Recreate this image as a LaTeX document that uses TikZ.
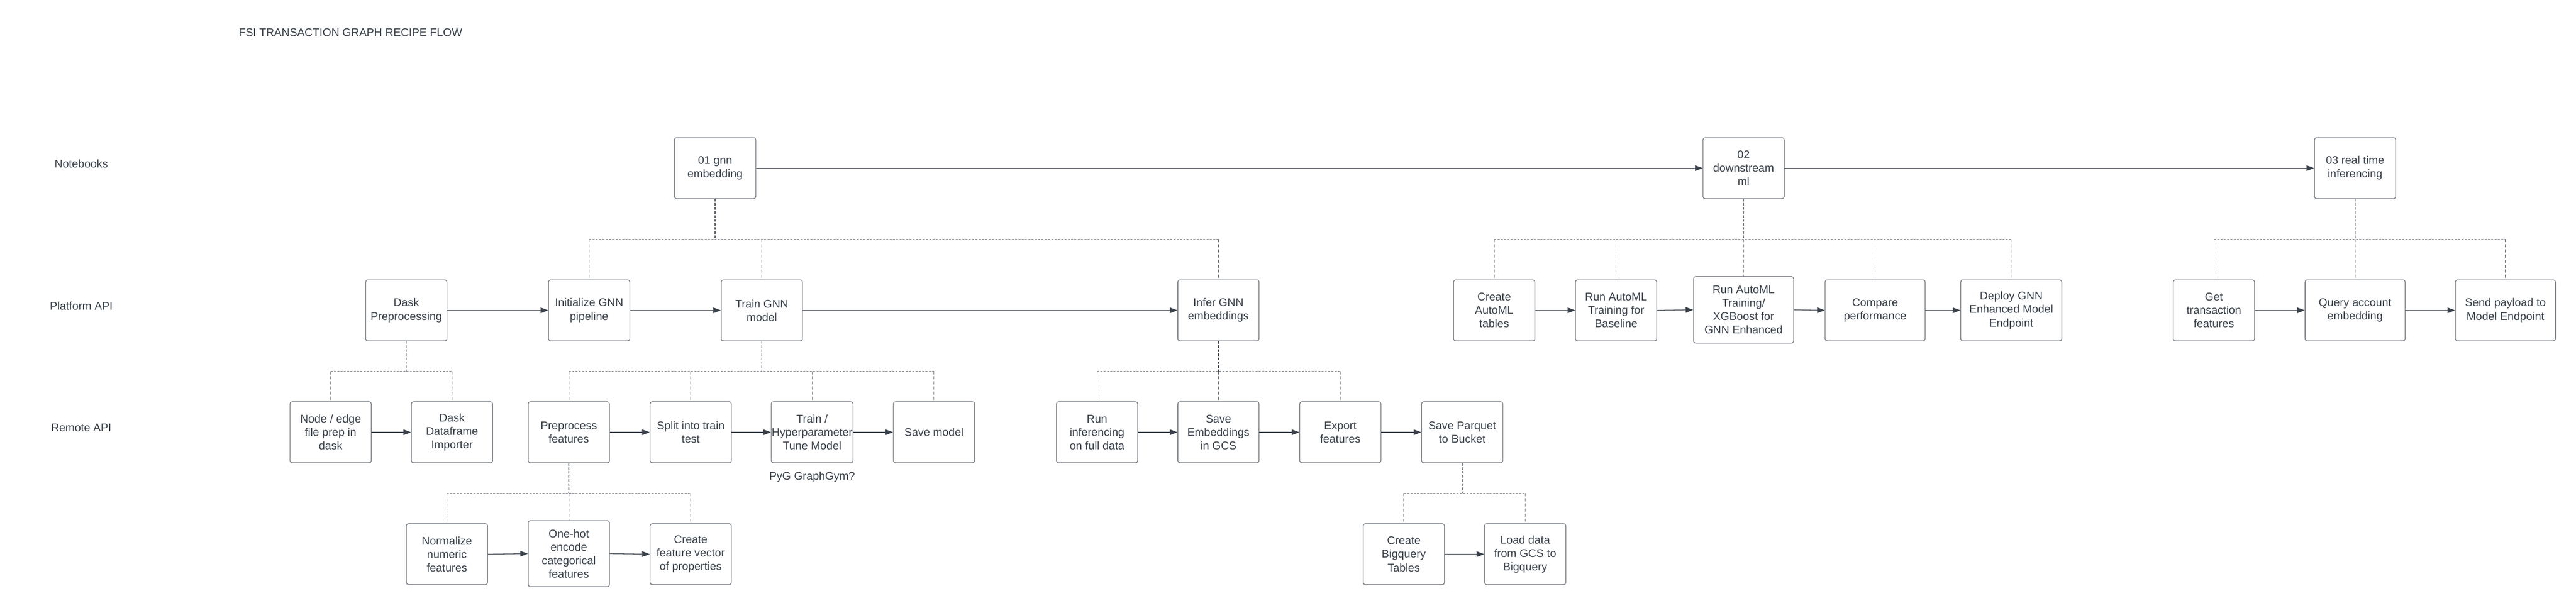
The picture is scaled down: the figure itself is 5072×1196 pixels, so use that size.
\documentclass[tikz,border=0pt]{standalone}
\usepackage{fontspec}
\setmainfont{Liberation Sans}
\usetikzlibrary{arrows.meta}
\definecolor{txt}{HTML}{3A414A}
\definecolor{bord}{HTML}{6E737A}
\definecolor{dsh}{HTML}{7A7F86}
\definecolor{dshd}{HTML}{4A5058}
\begin{document}
\begin{tikzpicture}[x=1pt,y=-1pt,
 box/.style={draw=bord, line width=1.3pt, rounded corners=4pt, minimum width=160pt, minimum height=120pt, align=center, text=txt, font=\fontsize{22}{26.5}\selectfont, inner sep=1pt},
 wbox/.style={box, minimum width=197pt},
 lbl/.style={text=txt, font=\fontsize{22}{26.5}\selectfont, inner sep=0pt},
 arr/.style={draw=txt, line width=1.3pt, -{Triangle[length=15pt,width=11pt]}},
 trunk/.style={draw=dshd, line width=1.4pt, dash pattern=on 5pt off 3pt},
 bus/.style={draw=dsh, line width=1.3pt, dash pattern=on 4pt off 2.5pt},
 branch/.style={draw=dsh, line width=1.1pt, dash pattern=on 6pt off 4pt},
]
\useasboundingbox[fill=white] (0,0) rectangle (5072,1196);

% labels
\node[lbl, anchor=west] (title) at (470,64) {FSI TRANSACTION GRAPH RECIPE FLOW};
\node[lbl] (lnb) at (160,322) {Notebooks};
\node[lbl] (lpa) at (160,602) {Platform API};
\node[lbl] (lra) at (160,842) {Remote API};

% notebooks
\node[box] (nb1) at (1408,331) {01 gnn\\embedding};
\node[box] (nb2) at (3433,331) {02\\downstream\\ml};
\node[box] (nb3) at (4637,331) {03 real time\\inferencing};

% platform row
\node[box] (p1) at (800,611) {Dask\\Preprocessing};
\node[box] (p2) at (1160,611) {Initialize GNN\\pipeline};
\node[box] (p3) at (1500,611) {Train GNN\\model};
\node[box] (p4) at (2399,611) {Infer GNN\\embeddings};
\node[box] (p5) at (2942,611) {Create\\AutoML\\tables};
\node[box] (p6) at (3182,611) {Run AutoML\\Training for\\Baseline};
\node[wbox, minimum height=131pt] (p7) at (3433,610) {Run AutoML\\Training/\\XGBoost for\\GNN Enhanced};
\node[wbox] (p8) at (3692,611) {Compare\\performance};
\node[wbox, minimum width=199pt] (p9) at (3960,611) {Deploy GNN\\Enhanced Model\\Endpoint};
\node[box] (p10) at (4359,611) {Get\\transaction\\features};
\node[wbox] (p11) at (4637,611) {Query account\\embedding};
\node[wbox] (p12) at (4933,611) {Send payload to\\Model Endpoint};

% remote row
\node[box] (r1) at (651,851) {Node / edge\\file prep in\\dask};
\node[box] (r2) at (890,851) {Dask\\Dataframe\\Importer};
\node[box] (r3) at (1120,851) {Preprocess\\features};
\node[box] (r4) at (1360,851) {Split into train\\test};
\node[box] (r5) at (1599,851) {Train /\\Hyperparameter\\Tune Model};
\node[box] (r6) at (1839,851) {Save model};
\node[box] (r7) at (2160,851) {Run\\inferencing\\on full data};
\node[box] (r8) at (2399,851) {Save\\Embeddings\\in GCS};
\node[box] (r9) at (2639,851) {Export\\features};
\node[box] (r10) at (2879,851) {Save Parquet\\to Bucket};
\node[lbl] (pyg) at (1599,939) {PyG GraphGym?};

% sub row
\node[box] (s1) at (880,1091) {Normalize\\numeric\\features};
\node[box, minimum height=130pt] (s2) at (1120,1090) {One-hot\\encode\\categorical\\features};
\node[box] (s3) at (1360,1091) {Create\\feature vector\\of properties};
\node[box] (s4) at (2764,1091) {Create\\Bigquery\\Tables};
\node[box] (s5) at (3003,1091) {Load data\\from GCS to\\Bigquery};

% bus levels
\coordinate (yA) at (0,471);
\coordinate (yB) at (0,731);
\coordinate (yC) at (0,971);

% arrows
\draw[arr] (nb1.east) -- (nb2.west);
\draw[arr] (nb2.east) -- (nb3.west);
\draw[arr] (p1.east) -- (p2.west);
\draw[arr] (p2.east) -- (p3.west);
\draw[arr] (p3.east) -- (p4.west);
\draw[arr] (p5.east) -- (p6.west);
\draw[arr] (p6.east) -- (p7.west);
\draw[arr] (p7.east) -- (p8.west);
\draw[arr] (p8.east) -- (p9.west);
\draw[arr] (p10.east) -- (p11.west);
\draw[arr] (p11.east) -- (p12.west);
\draw[arr] (r1.east) -- (r2.west);
\draw[arr] (r3.east) -- (r4.west);
\draw[arr] (r4.east) -- (r5.west);
\draw[arr] (r5.east) -- (r6.west);
\draw[arr] (r7.east) -- (r8.west);
\draw[arr] (r8.east) -- (r9.west);
\draw[arr] (r9.east) -- (r10.west);
\draw[arr] (s1.east) -- (s2.west);
\draw[arr] (s2.east) -- (s3.west);
\draw[arr] (s4.east) -- (s5.west);

% hierarchy: 01 gnn embedding
\draw[bus] (p2.north |- yA) -- (p4.north |- yA);
\draw[trunk] (nb1.south) -- (nb1.south |- yA);
\foreach \c in {p2,p3,p4} \draw[branch] (\c.north |- yA) -- (\c.north);
% 02 downstream ml
\draw[bus] (p5.north |- yA) -- (p9.north |- yA);
\draw[trunk] (nb2.south) -- (nb2.south |- yA);
\foreach \c in {p5,p6,p7,p8,p9} \draw[branch] (\c.north |- yA) -- (\c.north);
% 03 real time inferencing
\draw[bus] (p10.north |- yA) -- (p12.north |- yA);
\draw[trunk] (nb3.south) -- (nb3.south |- yA);
\foreach \c in {p10,p11,p12} \draw[branch] (\c.north |- yA) -- (\c.north);
% Dask Preprocessing
\draw[bus] (r1.north |- yB) -- (r2.north |- yB);
\draw[trunk] (p1.south) -- (p1.south |- yB);
\foreach \c in {r1,r2} \draw[branch] (\c.north |- yB) -- (\c.north);
% Train GNN model
\draw[bus] (r3.north |- yB) -- (r6.north |- yB);
\draw[trunk] (p3.south) -- (p3.south |- yB);
\foreach \c in {r3,r4,r5,r6} \draw[branch] (\c.north |- yB) -- (\c.north);
% Infer GNN embeddings
\draw[bus] (r7.north |- yB) -- (r9.north |- yB);
\draw[trunk] (p4.south) -- (p4.south |- yB);
\foreach \c in {r7,r8,r9} \draw[branch] (\c.north |- yB) -- (\c.north);
% Preprocess features
\draw[bus] (s1.north |- yC) -- (s3.north |- yC);
\draw[trunk] (r3.south) -- (r3.south |- yC);
\foreach \c in {s1,s2,s3} \draw[branch] (\c.north |- yC) -- (\c.north);
% Save Parquet to Bucket
\draw[bus] (s4.north |- yC) -- (s5.north |- yC);
\draw[trunk] (r10.south) -- (r10.south |- yC);
\foreach \c in {s4,s5} \draw[branch] (\c.north |- yC) -- (\c.north);
\end{tikzpicture}
\end{document}
